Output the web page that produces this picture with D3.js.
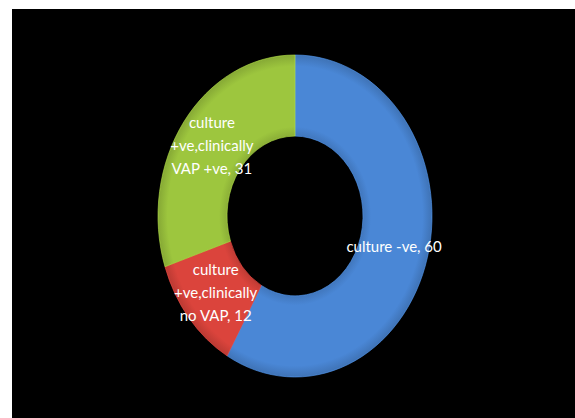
<!DOCTYPE html>
<html lang="en">
<head>
<meta charset="utf-8">
<title>Culture results donut</title>
<script src="https://cdn.jsdelivr.net/npm/d3@7"></script>
<style>
  html, body { margin: 0; padding: 0; background: #fff; }
  svg { display: block; }
</style>
</head>
<body>
<div id="chart"></div>
<script>
'use strict';

var categories = ['culture -ve', 'culture +ve,clinically no VAP', 'culture +ve,clinically VAP +ve'];
var values = [60, 12, 31];
// how each data label wraps in the original
var labelLines = [
  ['culture -ve, 60'],
  ['culture', '+ve,clinically', 'no VAP, 12'],
  ['culture', '+ve,clinically', 'VAP +ve, 31']
];
var colors = ['#4a87d6', '#db443c', '#9dc63e'];

var width = 575, height = 418;
var cx = 295, cy = 216;
var outerR = 137, innerR = 68;
var squash = 161 / 137; // the ring is drawn a bit taller than wide

var svg = d3.select('#chart').append('svg')
  .attr('width', width)
  .attr('height', height);

svg.append('rect')
  .attr('x', 12)
  .attr('y', 9)
  .attr('width', width - 12)
  .attr('height', height - 9)
  .attr('fill', '#000');

var defs = svg.append('defs');
colors.forEach(function(c, i) {
  var g = defs.append('radialGradient')
    .attr('id', 'shade' + i)
    .attr('gradientUnits', 'userSpaceOnUse')
    .attr('cx', 0).attr('cy', 0).attr('r', outerR);
  g.append('stop').attr('offset', innerR / outerR).attr('stop-color', d3.color(c).darker(0.35));
  g.append('stop').attr('offset', (innerR + 8) / outerR).attr('stop-color', c);
  g.append('stop').attr('offset', 0.93).attr('stop-color', c);
  g.append('stop').attr('offset', 1).attr('stop-color', d3.color(c).darker(0.45));
});

var pie = d3.pie().sort(null).value(function(d) { return d; });
var arcs = pie(values);

var arc = d3.arc().innerRadius(innerR).outerRadius(outerR);
var labelArc = d3.arc().innerRadius((innerR + outerR) / 2).outerRadius((innerR + outerR) / 2);

var ring = svg.append('g')
  .attr('transform', 'translate(' + cx + ',' + cy + ') scale(1,' + squash + ')');

ring.selectAll('path')
  .data(arcs)
  .enter().append('path')
  .attr('d', arc)
  .attr('fill', function(d, i) { return 'url(#shade' + i + ')'; })
  .attr('stroke', function(d, i) { return d3.color(colors[i]).brighter(0.3); })
  .attr('stroke-width', 0.6);

var lineH = 23;
var labels = svg.append('g')
  .attr('font-family', 'Lato, "Open Sans", sans-serif')
  .attr('font-size', 15)
  .attr('fill', '#fff');

labels.selectAll('text')
  .data(arcs)
  .enter().append('text')
  .attr('text-anchor', 'middle')
  .each(function(d, i) {
    var p = labelArc.centroid(d);
    var x = cx + p[0];
    var y = cy + p[1] * squash;
    var lines = labelLines[i];
    var t = d3.select(this);
    lines.forEach(function(line, k) {
      t.append('tspan')
        .attr('x', x)
        .attr('y', y + (k - (lines.length - 1) / 2) * lineH)
        .attr('dy', '0.35em')
        .text(line);
    });
  });
</script>
</body>
</html>
